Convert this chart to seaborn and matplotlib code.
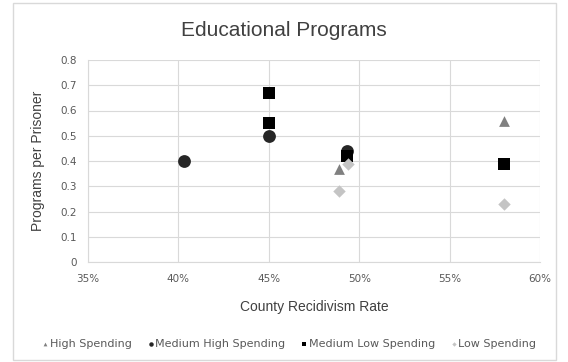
import matplotlib
matplotlib.use("Agg")
import matplotlib.pyplot as plt
import matplotlib.ticker as mticker
from matplotlib.patches import Rectangle
import seaborn as sns
import pandas as pd

# Recidivism rate (%) and programs per prisoner, by county spending group
high_x = [48.9, 58.0]
high_y = [0.37, 0.56]
med_high_x = [40.3, 45.0, 49.3]
med_high_y = [0.40, 0.50, 0.44]
med_low_x = [45.0, 45.0, 49.3, 58.0]
med_low_y = [0.67, 0.55, 0.42, 0.39]
low_x = [48.9, 49.4, 58.0]
low_y = [0.28, 0.39, 0.23]

groups = ["High Spending", "Medium High Spending", "Medium Low Spending", "Low Spending"]
xs = [high_x, med_high_x, med_low_x, low_x]
ys = [high_y, med_high_y, med_low_y, low_y]

rows = []
for g, gx, gy in zip(groups, xs, ys):
    for a, b in zip(gx, gy):
        rows.append({"rate": a, "programs": b, "group": g})
df = pd.DataFrame(rows)

sns.set_theme(style="white")
plt.rcParams["font.family"] = ["Liberation Sans", "DejaVu Sans"]

fig = plt.figure(figsize=(5.68, 3.62), dpi=100)
ax = fig.add_axes([88 / 568, 1 - 262 / 362, (540 - 88) / 568, (262 - 60) / 362])

palette = {"High Spending": "#808080", "Medium High Spending": "#262626",
           "Medium Low Spending": "#000000", "Low Spending": "#c4c4c4"}
markers = {"High Spending": "^", "Medium High Spending": "o",
           "Medium Low Spending": "s", "Low Spending": "D"}
sizes = {"High Spending": 60, "Medium High Spending": 85,
         "Medium Low Spending": 80, "Low Spending": 40}

for g in groups:
    sub = df[df["group"] == g]
    sns.scatterplot(data=sub, x="rate", y="programs", ax=ax, color=palette[g],
                    marker=markers[g], s=sizes[g], linewidth=0, label=g, zorder=3)

tick_font = {"family": "DejaVu Sans", "size": 7.5}

ax.set_xlim(35, 60)
ax.set_ylim(0, 0.8)
ax.set_xticks([35, 40, 45, 50, 55, 60])
ax.set_yticks([0, 0.1, 0.2, 0.3, 0.4, 0.5, 0.6, 0.7, 0.8])
ax.xaxis.set_major_formatter(mticker.FuncFormatter(lambda v, p: f"{v:.0f}%"))
ax.yaxis.set_major_formatter(mticker.FuncFormatter(lambda v, p: "0" if v == 0 else f"{v:.1f}"))
ax.tick_params(axis="both", colors="#595959", length=0)
ax.tick_params(axis="x", pad=9)
ax.tick_params(axis="y", pad=8)
for lbl in ax.get_xticklabels() + ax.get_yticklabels():
    lbl.set_fontfamily(tick_font["family"])
    lbl.set_fontsize(tick_font["size"])
ax.grid(True, color="#d9d9d9", linewidth=0.8)
for side in ["top", "right"]:
    ax.spines[side].set_visible(False)
for side in ["left", "bottom"]:
    ax.spines[side].set_color("#d9d9d9")
    ax.spines[side].set_linewidth(0.8)

ax.set_xlabel("County Recidivism Rate", fontsize=10, color="#404040", labelpad=11)
ax.set_ylabel("Programs per Prisoner", fontsize=10, color="#404040", labelpad=11)
fig.text(0.5, 1 - 30 / 362, "Educational Programs", ha="center", va="center",
         fontsize=15, color="#404040")

leg = ax.legend(loc="center", bbox_to_anchor=(0.5 - 0.055, (262 - 344) / (262 - 60)),
                bbox_transform=ax.transAxes, ncol=4, frameon=False,
                prop={"family": "DejaVu Sans", "size": 8},
                markerscale=0.35, handletextpad=0.1, columnspacing=1.4,
                handlelength=0.6)
for t in leg.get_texts():
    t.set_color("#595959")

fig.patches.append(Rectangle((13 / 568, 2 / 362), (556 - 13) / 568, (359 - 2) / 362,
                             transform=fig.transFigure, fill=False,
                             edgecolor="#d9d9d9", linewidth=1))

fig.savefig("out.png", dpi=100)
